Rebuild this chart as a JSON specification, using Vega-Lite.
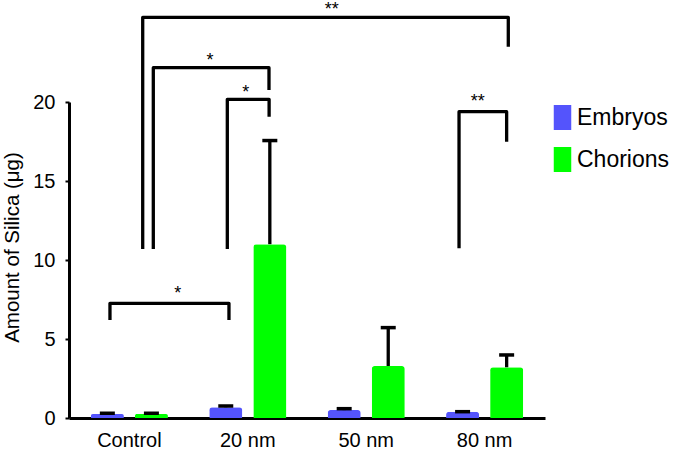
{
  "$schema": "https://vega.github.io/schema/vega-lite/v6.json",
  "width": 476,
  "height": 316,
  "autosize": "none",
  "padding": {"left": 69, "top": 102, "right": 130, "bottom": 31},
  "background": "white",
  "config": {
    "view": {"stroke": null},
    "font": "Liberation Sans",
    "axis": {"grid": false, "domainColor": "black", "domainWidth": 3, "tickColor": "black", "labelColor": "black", "titleColor": "black", "labelFont": "Liberation Sans", "titleFont": "Liberation Sans"}
  },
  "datasets": {
    "bars": [
      {"group": "Control", "series": "Embryos", "mean": 0.25, "upper": 0.3},
      {"group": "Control", "series": "Chorions", "mean": 0.25, "upper": 0.3},
      {"group": "20 nm", "series": "Embryos", "mean": 0.68, "upper": 0.76},
      {"group": "20 nm", "series": "Chorions", "mean": 11.0, "upper": 17.56},
      {"group": "50 nm", "series": "Embryos", "mean": 0.5, "upper": 0.59},
      {"group": "50 nm", "series": "Chorions", "mean": 3.29, "upper": 5.72},
      {"group": "80 nm", "series": "Embryos", "mean": 0.4, "upper": 0.4},
      {"group": "80 nm", "series": "Chorions", "mean": 3.21, "upper": 3.99}
    ],
    "brackets": [
      {"id": "b1", "ord": 1, "gx": 1.1125, "y": 10.7},
      {"id": "b1", "ord": 2, "gx": 1.1125, "y": 25.35},
      {"id": "b1", "ord": 3, "gx": 4.2, "y": 25.35},
      {"id": "b1", "ord": 4, "gx": 4.2, "y": 23.5},
      {"id": "b2", "ord": 1, "gx": 1.202, "y": 10.7},
      {"id": "b2", "ord": 2, "gx": 1.202, "y": 22.17},
      {"id": "b2", "ord": 3, "gx": 2.179, "y": 22.17},
      {"id": "b2", "ord": 4, "gx": 2.179, "y": 20.76},
      {"id": "b3", "ord": 1, "gx": 1.827, "y": 10.7},
      {"id": "b3", "ord": 2, "gx": 1.827, "y": 20.17},
      {"id": "b3", "ord": 3, "gx": 2.18, "y": 20.17},
      {"id": "b3", "ord": 4, "gx": 2.18, "y": 19.07},
      {"id": "b4", "ord": 1, "gx": 3.784, "y": 10.74},
      {"id": "b4", "ord": 2, "gx": 3.784, "y": 19.39},
      {"id": "b4", "ord": 3, "gx": 4.186, "y": 19.39},
      {"id": "b4", "ord": 4, "gx": 4.186, "y": 17.49},
      {"id": "b5", "ord": 1, "gx": 0.836, "y": 6.2},
      {"id": "b5", "ord": 2, "gx": 0.836, "y": 7.26},
      {"id": "b5", "ord": 3, "gx": 1.841, "y": 7.26},
      {"id": "b5", "ord": 4, "gx": 1.841, "y": 6.2}
    ],
    "stars": [
      {"gx": 2.71, "y": 25.51, "label": "**"},
      {"gx": 1.681, "y": 22.3, "label": "*"},
      {"gx": 1.982, "y": 20.23, "label": "*"},
      {"gx": 3.942, "y": 19.69, "label": "**"},
      {"gx": 1.408, "y": 7.56, "label": "*"}
    ]
  },
  "layer": [
    {
      "data": {"name": "bars"},
      "encoding": {
        "x": {"field": "group", "type": "nominal", "sort": ["Control", "20 nm", "50 nm", "80 nm"],
              "scale": {"paddingInner": 0.2, "paddingOuter": 0.11},
              "axis": {"title": null, "ticks": false, "labelAngle": 0, "labelFontSize": 20, "labelBaseline": "alphabetic", "labelPadding": 28}},
        "xOffset": {"field": "series", "type": "nominal", "sort": ["Embryos", "Chorions"],
                    "scale": {"paddingInner": 0.25, "paddingOuter": 0.2}}
      },
      "layer": [
        {
          "mark": {"type": "bar", "cornerRadiusEnd": 3},
          "encoding": {
            "y": {"field": "mean", "type": "quantitative", "scale": {"domain": [0, 20], "nice": false},
                  "axis": {"title": "Amount of Silica (μg)", "values": [0, 5, 10, 15, 20], "tickSize": 4, "tickWidth": 2,
                           "labelFontSize": 20, "labelPadding": 10, "titleFontSize": 20.5, "titleFontWeight": "normal",
                           "titleX": -50.5, "titleY": 145, "titleBaseline": "alphabetic", "titleAlign": "center", "titleAngle": -90}},
            "color": {"field": "series", "type": "nominal",
                      "scale": {"domain": ["Embryos", "Chorions"], "range": ["#5454fc", "#00ff00"]},
                      "legend": {"title": null, "orient": "none", "legendX": 481, "legendY": 3,
                                 "symbolType": "M-0.7,-1H0.7V1H-0.7Z", "symbolSize": 625, "symbolStrokeWidth": 0,
                                 "labelFontSize": 23, "labelFont": "Liberation Sans", "labelColor": "black", "labelOffset": 2,
                                 "rowPadding": 17}}
          }
        },
        {
          "mark": {"type": "rule", "color": "black", "strokeWidth": 3.3},
          "encoding": {
            "y": {"field": "mean", "type": "quantitative"},
            "y2": {"field": "upper"}
          }
        },
        {
          "mark": {"type": "tick", "color": "black", "thickness": 3.5, "size": 15, "opacity": 1},
          "encoding": {
            "y": {"field": "upper", "type": "quantitative"}
          }
        }
      ]
    },
    {
      "encoding": {
        "x": {"field": "gx", "type": "quantitative", "scale": {"domain": [0.49, 4.51], "nice": false, "zero": false}, "axis": null},
        "y": {"field": "y", "type": "quantitative"}
      },
      "layer": [
        {
          "data": {"name": "brackets"},
          "mark": {"type": "line", "color": "black", "strokeWidth": 3.3, "strokeJoin": "round", "clip": false},
          "encoding": {
            "detail": {"field": "id", "type": "nominal"},
            "order": {"field": "ord", "type": "quantitative"}
          }
        },
        {
          "data": {"name": "stars"},
          "mark": {"type": "text", "color": "black", "fontSize": 18, "align": "center", "baseline": "alphabetic", "clip": false, "font": "Liberation Sans"},
          "encoding": {
            "text": {"field": "label"}
          }
        }
      ]
    }
  ],
  "resolve": {"scale": {"x": "independent"}}
}
